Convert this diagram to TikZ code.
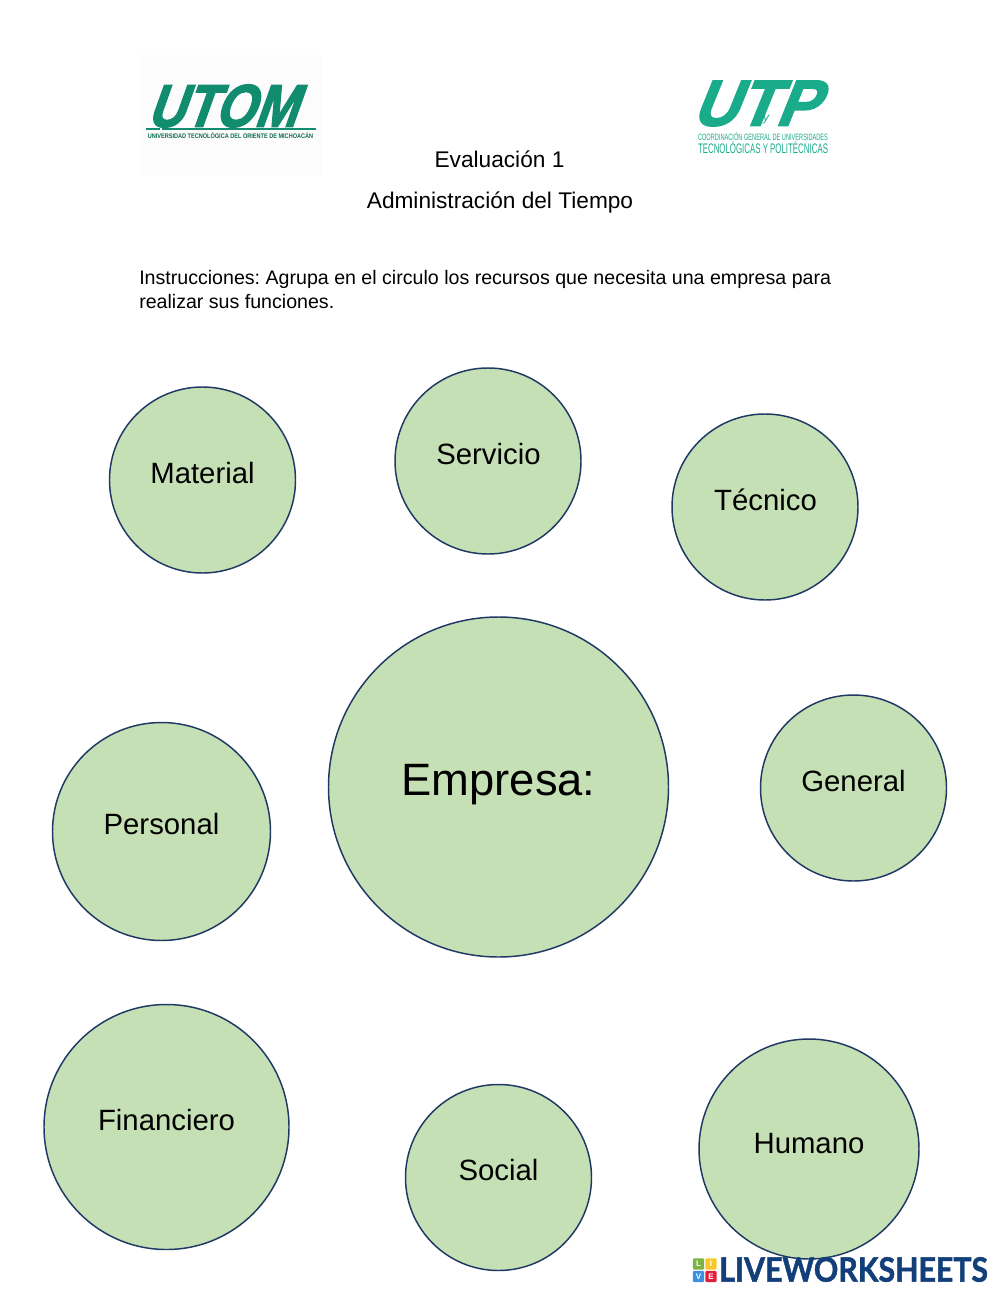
\documentclass[tikz,border=0pt]{standalone}
\usepackage{fontspec}
\usepackage{graphicx}
\setmainfont{Liberation Sans}
\newfontfamily\lato[FakeBold=1.5]{Lato Bold}
\newfontfamily\logofont[FakeSlant=0.42,FakeBold=2.5]{Liberation Sans Bold}
\definecolor{bubfill}{HTML}{C5E0B4}
\definecolor{bubline}{HTML}{1F3864}
\definecolor{utomgreen}{HTML}{128C6E}
\definecolor{utpgreen}{HTML}{1AAC8A}
\definecolor{lwblue}{HTML}{123F7A}
\definecolor{tilel}{HTML}{7CB342}
\definecolor{tilei}{HTML}{F9C828}
\definecolor{tilev}{HTML}{3D8FE0}
\definecolor{tilee}{HTML}{E01F3D}
\newcommand{\fs}[1]{\fontsize{#1}{#1}\selectfont}
\newcommand{\fitbox}[3]{\resizebox{#1pt}{#2pt}{#3}}
\frenchspacing
\tikzset{
  bub/.style={circle,draw=bubline,fill=bubfill,line width=1.1pt,inner sep=0pt,outer sep=0pt,minimum size=#1*0.75pt},
  bubtext/.style={inner sep=0pt,anchor=center,text=black,font=\fs{22}},
  head/.style={inner sep=0pt,anchor=base,text=black,font=\fs{17}},
  instr/.style={inner sep=0pt,anchor=base west,text=black,font=\fs{14.7}},
  logotext/.style={inner sep=0pt,anchor=center},
  tile/.style={inner sep=0pt,outer sep=0pt,minimum size=8.4pt,rounded corners=0.8pt,text=white,font=\bfseries\fs{6}},
}
\begin{document}
\begin{tikzpicture}[x=0.75pt,y=-0.75pt]
\useasboundingbox[fill=white] (0,0) rectangle (1000,1294);
% logo UTOM
\fill[black!1!white] (140,55) rectangle (322,176);
\node[logotext,text=utomgreen] (utom) at (221.3,106) {\fitbox{112}{31.5}{\logofont UTOM}};
\fill[utomgreen] (146,128.5) rectangle (160,130.5);
\fill[utomgreen] (162,128.5) rectangle (316,130.5);
\node[logotext,text=utomgreen!75!black,anchor=base] (utomsub) at (230.5,139) {\fitbox{124}{4.4}{\bfseries UNIVERSIDAD TECNOLÓGICA DEL ORIENTE DE MICHOACÁN}};
% logo UTP
\node[logotext,text=utpgreen] (utp) at (753.8,103.5) {\fitbox{93.7}{33.5}{\logofont UTP}};
\node[logotext,text=utpgreen,font=\itshape\fs{9},anchor=base] (utpy) at (766,122) {y};
\node[logotext,text=utpgreen,anchor=base] (utpa) at (763,140.5) {\fitbox{97.5}{6}{COORDINACIÓN GENERAL DE UNIVERSIDADES}};
\node[logotext,text=utpgreen,anchor=base] (utpb) at (763,154) {\fitbox{97.5}{9}{TECNOLÓGICAS Y POLITÉCNICAS}};
% headings
\node[head] (eval) at (499.5,167.5) {Evaluación 1};
\node[head] (admin) at (500,209) {Administración del Tiempo};
\node[instr] (ins1) at (139,284.7) {Instrucciones: Agrupa en el circulo los recursos que necesita una empresa para};
\node[instr] (ins2) at (139,309) {realizar sus funciones.};
% circles
\node[bub=186] (material) at (202.5,480) {};
\node[bub=186] (servicio) at (488,461) {};
\node[bub=186] (tecnico) at (765,507) {};
\node[bub=340] (empresa) at (498.5,787) {};
\node[bub=186] (general) at (853.5,788) {};
\node[bub=218] (personal) at (161.5,831.5) {};
\node[bub=245] (financiero) at (166.5,1127) {};
\node[bub=186] (social) at (498.5,1177.5) {};
\node[bub=220] (humano) at (809,1149) {};
% labels
\node[bubtext] (tmaterial) at (202.5,473) {Material};
\node[bubtext] (tservicio) at (488.5,454) {Servicio};
\node[bubtext] (ttecnico) at (765.5,500) {Técnico};
\node[bubtext,font=\fs{34}] (tempresa) at (498.5,785) {Empresa:};
\node[bubtext] (tgeneral) at (853.5,781) {General};
\node[bubtext] (tpersonal) at (161.5,824.5) {Personal};
\node[bubtext] (tfinanciero) at (166.5,1120) {Financiero};
\node[bubtext] (tsocial) at (498.5,1170) {Social};
\node[bubtext] (thumano) at (809,1144) {Humano};
% liveworksheets
\node[tile,fill=tilel] (tl) at (698.5,1264) {L};
\node[tile,fill=tilei] (ti) at (711,1264) {I};
\node[tile,fill=tilev] (tv) at (698.5,1276.5) {V};
\node[tile,fill=tilee] (te) at (711,1276.5) {E};
\node[logotext,text=lwblue,anchor=west] (lw) at (719,1269.5) {\fitbox{201.5}{18.5}{\lato LIVEWORKSHEETS}};
\end{tikzpicture}
\end{document}
